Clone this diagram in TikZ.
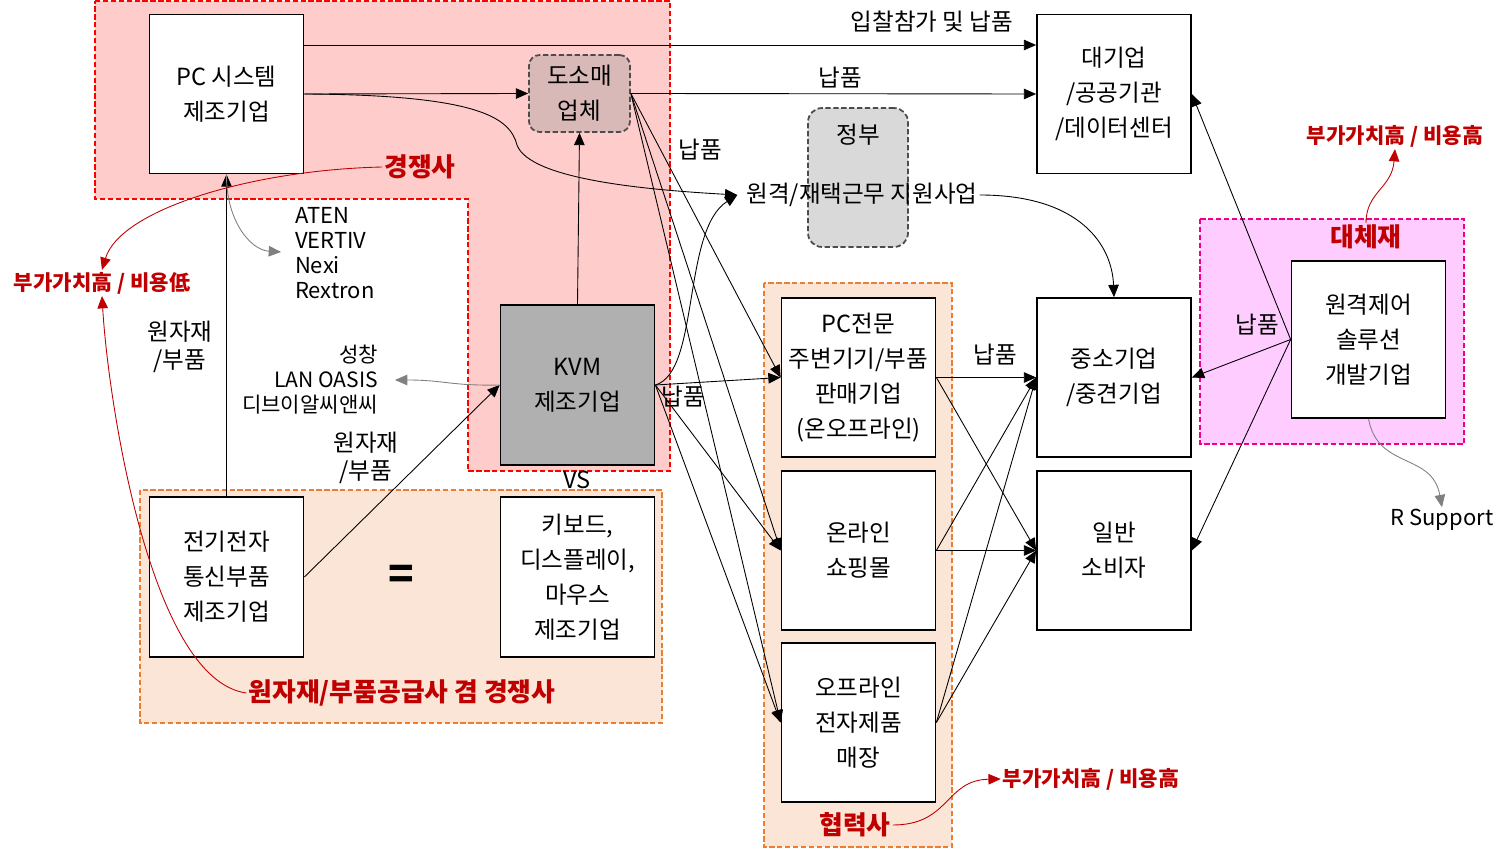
\documentclass[tikz,border=0pt]{standalone}
\usepackage{fontspec}
\setmainfont{Noto Sans CJK KR}
\usepackage{xcolor}
\usetikzlibrary{arrows.meta, positioning}
\definecolor{rivalred}{HTML}{C00000}
\definecolor{rivalfill}{HTML}{FFCCCC}
\definecolor{partnerfill}{HTML}{FBE5D6}
\definecolor{partnerline}{HTML}{ED7D31}
\definecolor{substfill}{HTML}{FFCCFF}
\definecolor{wholesale}{HTML}{D9B8B8}
\definecolor{govgray}{HTML}{D9D9D9}
\definecolor{kvmgray}{HTML}{B0B0B0}

\begin{document}
\begin{tikzpicture}[
    x=0.02cm, y=-0.02cm,
    box/.style={rectangle, draw=black, line width=1pt, fill=white, minimum width=3.08cm, minimum height=3.18cm, inner sep=0pt, align=center, font=\fontsize{13.4}{19.9}\selectfont},
    softbox/.style={box, dashed, dash pattern=on 3pt off 1.5pt, draw=black!70},
    txt/.style={font=\fontsize{13.4}{15.9}\selectfont, align=center, inner sep=1pt},
    redtxt/.style={font=\fontsize{14.7}{16}\selectfont\bfseries, text=rivalred, inner sep=1pt},
    notetxt/.style={font=\fontsize{12}{14}\selectfont\bfseries, text=rivalred, inner sep=1pt},
    zone/.style={line width=1pt, dashed, dash pattern=on 3pt off 1.5pt},
    arrow/.style={-{Triangle[length=7pt,width=6pt]}, line width=0.5pt},
    grayarrow/.style={arrow, gray},
    redarrow/.style={arrow, rivalred}
]
\useasboundingbox (0,0) rectangle (1504,854);

% Zones
\draw[zone, fill=rivalfill, draw=red] (95,1) -- (670,1) -- (670,471) -- (468,471) -- (468,199) -- (95,199) -- cycle;
\draw[zone, fill=partnerfill, draw=partnerline] (764,283) rectangle (952,847);
\draw[zone, fill=partnerfill, draw=partnerline] (140,490) rectangle (662,723);
\draw[zone, fill=substfill, draw=magenta] (1200,219) rectangle (1464,444);

% Competitors
\node[box] (pc) at (226.5,94) {PC 시스템\\제조기업};
\node[softbox, rounded corners=6pt, fill=wholesale, minimum width=2.02cm, minimum height=1.54cm] (dosomae) at (579.5,93.5) {도소매\\업체};
\node[box, fill=kvmgray, minimum height=3.2cm] (kvm) at (577.5,385) {KVM\\제조기업};
% Government
\node[softbox, rounded corners=8pt, fill=govgray, minimum width=2cm, minimum height=2.78cm] (gov) at (858,177.5) {};
\node[txt] (govlabel) at (858,135) {정부};
\node[txt] (support) at (862,195) {원격/재택근무 지원사업};
% Customers
\node[box] (large) at (1114,94) {대기업\\/공공기관\\/데이터센터};
\node[box] (sme) at (1114,377.5) {중소기업\\/중견기업};
\node[box] (consumer) at (1114,550.5) {일반\\소비자};
% Partners
\node[box] (pcshop) at (858.5,377.5) {PC전문\\주변기기/부품\\판매기업\\(온오프라인)};
\node[box] (online) at (858.5,550.5) {온라인\\쇼핑몰};
\node[box] (offline) at (858.5,722.5) {오프라인\\전자제품\\매장};
% Substitute
\node[box, minimum height=3.14cm] (remote) at (1368.5,339.5) {원격제어\\솔루션\\개발기업};
% Suppliers
\node[box, minimum height=3.2cm] (elec) at (226.5,577) {전기전자\\통신부품\\제조기업};
\node[box, minimum height=3.2cm] (kbd) at (577.5,577) {키보드,\\디스플레이,\\마우스\\제조기업};
\node[font=\fontsize{24}{24}\selectfont\bfseries] (equal) at (401,577) {=};
\node[txt] (vs) at (577,480) {VS};

% Zone labels
\node[redtxt] (rivallabel) at (420,167) {경쟁사};
\node[redtxt] (substlabel) at (1366,237) {대체재};
\node[redtxt] (partnerlabel) at (855,825) {협력사};
\node[redtxt] (supplylabel) at (402,693) {원자재/부품공급사 겸 경쟁사};
\node[notetxt] (notelow) at (102,283) {부가가치高 / 비용低};
\node[notetxt] (notesubst) at (1395,136) {부가가치高 / 비용高};
\node[notetxt] (notepartner) at (1091,779) {부가가치高 / 비용高};

% Company names
\node[txt, align=left, anchor=west, font=\fontsize{12.5}{14.2}\selectfont] (foreign) at (293,253) {ATEN\\VERTIV\\Nexi\\Rextron};
\node[txt, align=right, anchor=east, font=\fontsize{12}{14.2}\selectfont] (domestic) at (380,380) {성창\\LAN OASIS\\디브이알씨앤씨};
\node[txt, font=\fontsize{12.5}{14.2}\selectfont] (rsupport) at (1442,520) {R Support};

% Supply to customers
\draw[arrow] ([yshift=0.98cm]pc.east) -- ([yshift=0.98cm]large.west);
\node[txt] (bidlabel) at (932,22) {입찰참가 및 납품};
\draw[arrow] (pc.east) -- (dosomae.west);
\draw[arrow] (dosomae.east) -- (large.west);
\node[txt] (sup1) at (840,78) {납품};
\draw[arrow] (pc.east) .. controls (480,95) and (510,118) .. (517,145) .. controls (530,180) and (650,190) .. ([xshift=-4pt]support.west);
\draw[arrow] (kvm.east) .. controls (700,372) and (682,230) .. ([xshift=-4pt]support.west);
\draw[arrow] (support.east) .. controls (1080,195) and (1112,245) .. (sme.north);

% Wholesale and KVM to partners
\node[txt] (sup2) at (700,150) {납품};
\draw[arrow] (dosomae.east) -- (pcshop.west);
\draw[arrow] (dosomae.east) -- (online.west);
\draw[arrow] (dosomae.east) -- (offline.west);
\draw[arrow] (kvm.east) -- (pcshop.west);
\draw[arrow] (kvm.east) -- (online.west);
\draw[arrow] (kvm.east) -- (offline.west);
\node[txt] (sup3) at (683,397) {납품};
\draw[arrow] (kvm.north) -- (dosomae.south);

% Raw materials
\draw[arrow] (elec.north) -- (pc.south);
\node[txt] (raw1) at (180,347) {원자재\\/부품};
\draw[arrow] (elec.east) -- (kvm.west);
\node[txt] (raw2) at (366,458) {원자재\\/부품};

% Partners to customers
\draw[arrow] (pcshop.east) -- (sme.west);
\node[txt] (sup4) at (995,355) {납품};
\draw[arrow] (pcshop.east) -- (consumer.west);
\draw[arrow] (online.east) -- (sme.west);
\draw[arrow] (online.east) -- (consumer.west);
\draw[arrow] (offline.east) -- (sme.west);
\draw[arrow] (offline.east) -- (consumer.west);

% Substitute to customers
\draw[arrow] (remote.west) -- (large.east);
\draw[arrow] (remote.west) -- (sme.east);
\draw[arrow] (remote.west) -- (consumer.east);
\node[txt] (sup5) at (1257,325) {납품};

% Notes
\coordinate (domestictip) at (395,380);
\draw[grayarrow] (kvm.west) .. controls (450,386) and (445,380) .. (domestictip);
\coordinate (foreigntip) at (281,252);
\draw[grayarrow] (pc.south) .. controls (226,220) and (250,250) .. (foreigntip);
\draw[grayarrow] (remote.south) .. controls (1378,470) and (1432,452) .. (rsupport.north);
\draw[redarrow] (rivallabel.west) .. controls (250,170) and (120,210) .. (notelow.north);
\draw[redarrow] (supplylabel.west) .. controls (150,680) and (108,400) .. (notelow.south);
\draw[redarrow] (substlabel.north) .. controls (1366,192) and (1392,188) .. (notesubst.south);
\draw[redarrow] (partnerlabel.east) .. controls (950,825) and (945,780) .. (notepartner.west);
\end{tikzpicture}
\end{document}
